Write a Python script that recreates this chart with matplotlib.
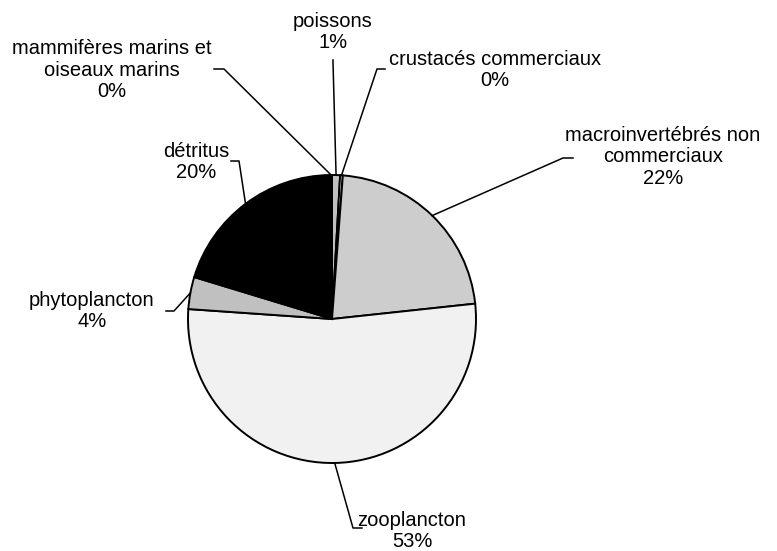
import numpy as np
import matplotlib.pyplot as plt

plt.rcParams['font.family'] = ['Liberation Sans', 'DejaVu Sans']

# data (percent shares, clockwise from 12 o'clock)
categories = ["poissons", "crustacés commerciaux", "macroinvertébrés non\ncommerciaux",
              "zooplancton", "phytoplancton", "détritus",
              "mammifères marins et\noiseaux marins"]
values = [0.9, 0.3, 22.1, 52.8, 3.6, 20.1, 0.2]
colors = ['#c0c0c0', '#ffffff', '#cdcdcd', '#f1f1f1', '#c0c0c0', '#000000', '#ffffff']

# layout, in pixels of the 777x551 picture
cx, cy, R = 332, 319, 144
label_pos = [(333, 32), (495, 70), (663, 157), (412, 531),
             (92, 311), (196, 162), (112, 70)]
# leader: (start at label, corner) before going to the wedge edge
leaders = [((333, 60), (333, 62)), ((385, 69), (377, 69)), ((573, 158), (563, 158)),
           ((362, 528), (353, 528)), ((166, 311), (174, 311)),
           ((231, 161), (239, 161)), ((214, 69), (224, 69))]


def p(x, y):
    """pixel -> data coords"""
    return (x - cx) / R, (cy - y) / R


fig = plt.figure(figsize=(7.77, 5.51), dpi=100)
ax = fig.add_axes([0, 0, 1, 1])

wedges, _ = ax.pie(values, colors=colors, startangle=90, counterclock=False,
                   wedgeprops=dict(edgecolor='black', linewidth=1.4))

ax.set_xlim(p(0, 0)[0], p(777, 0)[0])
ax.set_ylim(p(0, 551)[1], p(0, 0)[1])
ax.set_aspect('auto')
ax.axis('off')

total = float(sum(values))
for w, name, v, lp, (a, b) in zip(wedges, categories, values, label_pos, leaders):
    mid = np.deg2rad((w.theta1 + w.theta2) / 2.0)
    ex, ey = np.cos(mid), np.sin(mid)
    pa, pb = p(*a), p(*b)
    ax.plot([pa[0], pb[0], ex], [pa[1], pb[1], ey], color='black', lw=1.1)
    tx, ty = p(*lp)
    ax.text(tx, ty, "%s\n%d%%" % (name, round(v / total * 100)),
            ha='center', va='center', multialignment='center',
            fontsize=14.5, linespacing=1.18)

plt.savefig('out.png', dpi=100)
